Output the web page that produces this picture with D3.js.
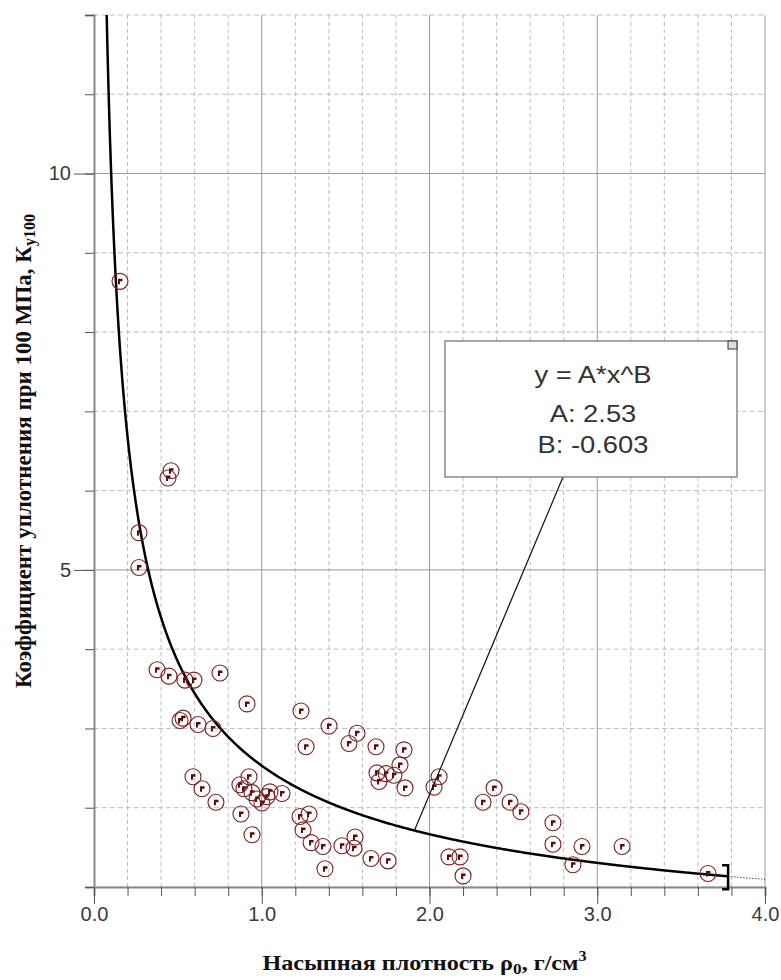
<!DOCTYPE html>
<html>
<head>
<meta charset="utf-8">
<script src="https://cdn.jsdelivr.net/npm/d3@7"></script>
<style>
  body { margin: 0; background: #fff; }
  svg { display: block; }
</style>
</head>
<body>
<div id="chart"></div>
<script>
// насыпная плотность, г/см3
const rhoValues = [
  0.155, 0.441, 0.459, 0.268, 0.268, 0.376, 0.447, 0.542, 0.596, 0.751,
  0.912, 0.513, 0.531, 0.620, 0.709, 1.234, 1.264, 1.401, 0.590, 0.644,
  0.727, 0.870, 0.924, 0.894, 0.942, 0.972, 1.001, 1.031, 1.049, 1.121,
  0.876, 0.942, 1.228, 1.282, 1.246, 1.294, 1.365, 1.377, 1.478, 1.556,
  1.550, 1.568, 1.520, 1.681, 1.848, 1.824, 1.687, 1.699, 1.741, 1.788,
  1.854, 1.651, 1.753, 2.057, 2.027, 2.319, 2.385, 2.480, 2.545, 2.736,
  2.736, 2.909, 2.855, 3.148, 3.660, 2.116, 2.182, 2.200
];
// коэффициент уплотнения Ky100
const kValues = [
  8.64, 6.16, 6.25, 5.47, 5.03, 3.74, 3.66, 3.61, 3.61, 3.70,
  3.31, 3.10, 3.13, 3.05, 3.00, 3.22, 2.77, 3.03, 2.39, 2.24,
  2.07, 2.29, 2.39, 2.24, 2.19, 2.11, 2.06, 2.14, 2.20, 2.18,
  1.92, 1.66, 1.89, 1.92, 1.72, 1.56, 1.51, 1.23, 1.52, 1.63,
  1.49, 2.94, 2.81, 2.77, 2.73, 2.54, 2.44, 2.33, 2.43, 2.41,
  2.25, 1.36, 1.33, 2.39, 2.26, 2.07, 2.25, 2.07, 1.95, 1.81,
  1.54, 1.51, 1.28, 1.51, 1.17, 1.38, 1.38, 1.14
];
const fitA = 2.53;
const fitB = -0.603;
const fitEnd = 3.78;
const fitLabels = ["y = A*x^B", `A: ${fitA}`, `B: ${fitB}`];
const xTickValues = [0, 1, 2, 3, 4];
const yTickValues = [5, 10];

const width = 781;
const height = 980;
const plotLeft = 94, plotRight = 765, plotTop = 15, plotBottom = 887;

const x = d3.scaleLinear().domain([0, 4]).range([plotLeft, plotRight]);
const y = d3.scaleLinear().domain([1, 12]).range([plotBottom, plotTop]);
const fit = v => fitA * Math.pow(v, fitB);

const svg = d3.select("#chart")
  .append("svg")
  .attr("width", width)
  .attr("height", height);

// сетка: пунктир через 0.2 и 1, сплошные на подписанных значениях
const xMinor = d3.range(0, 4.01, 0.2).map(v => +v.toFixed(1));
const yMinor = d3.range(1, 12.01, 1);

svg.append("g")
  .selectAll("line")
  .data(xMinor.filter(v => !xTickValues.includes(v)))
  .enter()
  .append("line")
  .attr("x1", d => x(d)).attr("x2", d => x(d))
  .attr("y1", plotTop).attr("y2", plotBottom)
  .attr("stroke", "#bdbdbd")
  .attr("stroke-dasharray", "4,3");

svg.append("g")
  .selectAll("line")
  .data(yMinor.filter(v => !yTickValues.includes(v)))
  .enter()
  .append("line")
  .attr("x1", plotLeft).attr("x2", plotRight)
  .attr("y1", d => y(d)).attr("y2", d => y(d))
  .attr("stroke", "#bdbdbd")
  .attr("stroke-dasharray", "5,3");

svg.append("g")
  .selectAll("line")
  .data(xTickValues.slice(1))
  .enter()
  .append("line")
  .attr("x1", d => x(d)).attr("x2", d => x(d))
  .attr("y1", plotTop).attr("y2", plotBottom)
  .attr("stroke", "#999");

svg.append("g")
  .selectAll("line")
  .data(yTickValues)
  .enter()
  .append("line")
  .attr("x1", plotLeft).attr("x2", plotRight)
  .attr("y1", d => y(d)).attr("y2", d => y(d))
  .attr("stroke", "#999");

// оси
const xAxis = svg.append("g")
  .attr("transform", `translate(0,${plotBottom})`)
  .call(d3.axisBottom(x).tickValues(xMinor).tickSize(9).tickFormat(""));
xAxis.selectAll("line").attr("stroke", "#555");
xAxis.select(".domain").attr("stroke", "#888").attr("stroke-width", 2);

const xMajor = svg.append("g")
  .attr("transform", `translate(0,${plotBottom})`)
  .call(d3.axisBottom(x).tickValues(xTickValues).tickSize(17).tickPadding(3).tickFormat(d3.format(".1f")));
xMajor.select(".domain").remove();
xMajor.selectAll("line").attr("stroke", "#555");
xMajor.selectAll("text")
  .attr("font-family", "'Liberation Sans Narrow', 'Liberation Sans', Arial, sans-serif")
  .attr("font-size", 20)
  .attr("fill", "#3a3a3a");

const yAxis = svg.append("g")
  .attr("transform", `translate(${plotLeft},0)`)
  .call(d3.axisLeft(y).tickValues(yMinor).tickSize(9).tickFormat(""));
yAxis.selectAll("line").attr("stroke", "#555");
yAxis.select(".domain").attr("stroke", "#888").attr("stroke-width", 2);

const yMajor = svg.append("g")
  .attr("transform", `translate(${plotLeft},0)`)
  .call(d3.axisLeft(y).tickValues(yTickValues).tickSize(20).tickPadding(3).tickFormat(d3.format("d")));
yMajor.select(".domain").remove();
yMajor.selectAll("line").attr("stroke", "#555");
yMajor.selectAll("text")
  .attr("font-family", "'Liberation Sans', Arial, sans-serif")
  .attr("font-size", 20)
  .attr("fill", "#3a3a3a");

// кривая аппроксимации
const xStart = Math.pow(12 / fitA, 1 / fitB);
const curveX = d3.range(xStart, fitEnd, 0.005).concat([fitEnd]);
const line = d3.line().x(d => x(d)).y(d => y(fit(d)));

svg.append("path")
  .datum(curveX)
  .attr("d", line)
  .attr("fill", "none")
  .attr("stroke", "#000")
  .attr("stroke-width", 2.5);

svg.append("path")
  .datum(d3.range(fitEnd, 4.001, 0.02))
  .attr("d", line)
  .attr("fill", "none")
  .attr("stroke", "#555")
  .attr("stroke-width", 1)
  .attr("stroke-dasharray", "1.5,1.5");

const bx = x(fitEnd), by = y(fit(fitEnd));
svg.append("path")
  .attr("d", `M${bx - 6},${by - 11} H${bx} V${by + 13} H${bx - 6}`)
  .attr("fill", "none")
  .attr("stroke", "#000")
  .attr("stroke-width", 2.5);

// точки
const points = rhoValues.map((v, i) => ({ x: v, y: kValues[i] }));
const marks = svg.append("g")
  .selectAll("g")
  .data(points)
  .enter()
  .append("g")
  .attr("transform", d => `translate(${x(d.x)},${y(d.y)})`);

marks.append("circle")
  .attr("r", 8)
  .attr("fill", "none")
  .attr("stroke", "#7a2020")
  .attr("stroke-width", 1.1);

marks.append("path")
  .attr("d", "M-2,-2.5 H2.5 V0 H0 V3 H-2 Z")
  .attr("fill", "#5a0c0c");

// подпись уравнения
const box = { x: 445, y: 341, w: 292, h: 136 };
const anchorX = 1.91;

svg.append("line")
  .attr("x1", 563).attr("y1", box.y + box.h)
  .attr("x2", x(anchorX)).attr("y2", y(fit(anchorX)))
  .attr("stroke", "#111")
  .attr("stroke-width", 1.2);

svg.append("rect")
  .attr("x", box.x).attr("y", box.y)
  .attr("width", box.w).attr("height", box.h)
  .attr("fill", "#fff")
  .attr("stroke", "#888")
  .attr("stroke-width", 1.5);

svg.append("rect")
  .attr("x", box.x + box.w - 9).attr("y", box.y)
  .attr("width", 9).attr("height", 8)
  .attr("fill", "#ddd")
  .attr("stroke", "#333")
  .attr("stroke-width", 1);

svg.append("g")
  .attr("transform", `translate(${box.x + box.w / 2 + 2},0) scale(1.14,1)`)
  .selectAll("text")
  .data(fitLabels)
  .enter()
  .append("text")
  .attr("x", 0)
  .attr("y", (d, i) => [383, 422, 453][i])
  .attr("text-anchor", "middle")
  .attr("font-family", "'Liberation Sans', Arial, sans-serif")
  .attr("font-size", 24)
  .attr("fill", "#333")
  .text(d => d);

// подписи осей
const xTitle = svg.append("text")
  .attr("transform", `translate(${(plotLeft + plotRight) / 2 - 5},970) scale(1.15,1)`)
  .attr("text-anchor", "middle")
  .attr("font-family", "'Liberation Serif', 'Times New Roman', serif")
  .attr("font-weight", "bold")
  .attr("font-size", 21)
  .attr("fill", "#111");
xTitle.append("tspan").text("Насыпная плотность ρ");
xTitle.append("tspan").attr("font-size", 15).attr("dy", 4).text("0");
xTitle.append("tspan").attr("dy", -4).text(", г/см");
xTitle.append("tspan").attr("font-size", 14).attr("dy", -9).text("3");

const yTitle = svg.append("text")
  .attr("transform", `translate(31,${(plotTop + plotBottom) / 2}) rotate(-90)`)
  .attr("text-anchor", "middle")
  .attr("font-family", "'Liberation Serif', 'Times New Roman', serif")
  .attr("font-weight", "bold")
  .attr("font-size", 23)
  .attr("fill", "#111");
yTitle.append("tspan").text("Коэффициент уплотнения при 100 МПа, К");
yTitle.append("tspan").attr("font-size", 16).attr("dy", 4).text("у100");
</script>
</body>
</html>
